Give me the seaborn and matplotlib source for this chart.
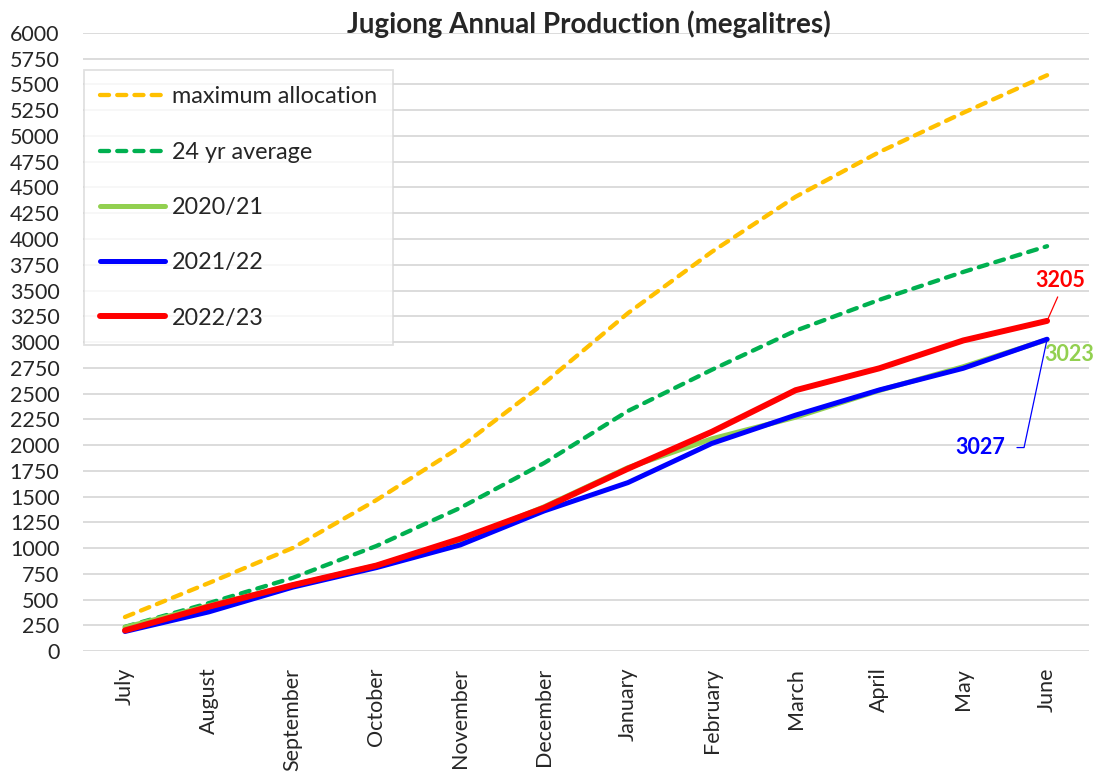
import matplotlib
matplotlib.use("Agg")
import matplotlib.pyplot as plt
import seaborn as sns
import pandas as pd

months = ["July", "August", "September", "October", "November", "December",
          "January", "February", "March", "April", "May", "June"]
max_allocation = [330, 660, 1000, 1466, 1980, 2600, 3280, 3875, 4410, 4845, 5225, 5590]
avg_24yr = [235, 465, 710, 1020, 1390, 1825, 2330, 2730, 3110, 3410, 3680, 3930]
y2020_21 = [230, 440, 640, 830, 1070, 1400, 1780, 2060, 2270, 2530, 2760, 3023]
y2021_22 = [190, 380, 620, 810, 1030, 1360, 1635, 2015, 2290, 2535, 2745, 3027]
y2022_23 = [200, 430, 640, 830, 1090, 1390, 1770, 2128, 2532, 2745, 3015, 3205]
yticks = list(range(0, 6001, 250))

sns.set_theme(style="white")
plt.rcParams['font.family'] = ['Lato', 'DejaVu Sans']

fig = plt.figure(figsize=(10.97, 7.78), dpi=100)
ax = fig.add_axes([0.0757, 0.1632, 0.9170, 0.7944])

series = [
    ("maximum allocation", max_allocation, "#FFC000", 3.1, (2.1, 1.9)),
    ("24 yr average", avg_24yr, "#00B050", 3.1, (2.1, 1.9)),
    ("2020/21", y2020_21, "#92D050", 3.6, None),
    ("2021/22", y2021_22, "#0000FF", 3.6, None),
    ("2022/23", y2022_23, "#FF0000", 4.3, None),
]
for name, vals, color, lw, dash in series:
    df = pd.DataFrame({"month": months, "value": vals})
    sns.lineplot(data=df, x="month", y="value", ax=ax, color=color,
                 linewidth=lw, label=name, sort=False)
    l = ax.lines[-1]
    if dash:
        l.set_dashes(dash)
        l.set_dash_capstyle("round")
    l.set_solid_capstyle("round")
    l.set_solid_joinstyle("round")

ax.set_xlim(-0.5, 11.5)
ax.set_ylim(0, 6000)
ax.set_yticks(yticks)
ax.set_yticklabels([str(t) for t in yticks], fontsize=15.5)
ax.set_xticks(range(len(months)))
ax.set_xticklabels(months, rotation=90, fontsize=15.5)
ax.tick_params(axis="y", length=0, pad=17)
ax.tick_params(axis="x", length=0, pad=12)
ax.set_xlabel("")
ax.set_ylabel("")
ax.yaxis.grid(True, color="#d9d9d9", linewidth=1.3)
ax.xaxis.grid(False)
for s in ax.spines.values():
    s.set_visible(False)
ax.set_axisbelow(True)

fig.text(0.537, 1 - 33 / 778, "Jugiong Annual Production (megalitres)",
         fontsize=20, fontweight="bold", ha="center", va="baseline")

leg = ax.legend(loc="upper left", bbox_to_anchor=(0.001, 0.94), borderaxespad=0,
                fontsize=16.8, handlelength=2.75, labelspacing=1.47,
                borderpad=0.7, handletextpad=0.3, frameon=True, fancybox=False)
leg.get_frame().set_edgecolor("#d9d9d9")
leg.get_frame().set_linewidth(1.3)

last = len(months) - 1
ax.annotate(str(y2022_23[-1]), xy=(last, y2022_23[-1]), xytext=(9.5, 29),
            textcoords="offset points", color="#FF0000", fontsize=15.5,
            fontweight="bold", ha="center", va="center", annotation_clip=False,
            arrowprops=dict(arrowstyle="-", color="#FF0000", lw=0.9,
                            shrinkA=2, shrinkB=0, relpos=(0.5, 0.0)))
ax.annotate(str(y2020_21[-1]), xy=(last, y2020_21[-1]), xytext=(16, -11),
            textcoords="offset points", color="#92D050", fontsize=15.5,
            fontweight="bold", ha="center", va="center", annotation_clip=False)
ax.annotate(str(y2021_22[-1]), xy=(last, y2021_22[-1]), xytext=(-48, -78),
            textcoords="offset points", color="#0000FF", fontsize=15.5,
            fontweight="bold", ha="center", va="center", annotation_clip=False,
            arrowprops=dict(arrowstyle="-", color="#0000FF", lw=0.9,
                            shrinkA=6, shrinkB=0, relpos=(1.0, 0.5),
                            connectionstyle="angle,angleA=0,angleB=78,rad=0"))

fig.savefig("out.png", dpi=100)
